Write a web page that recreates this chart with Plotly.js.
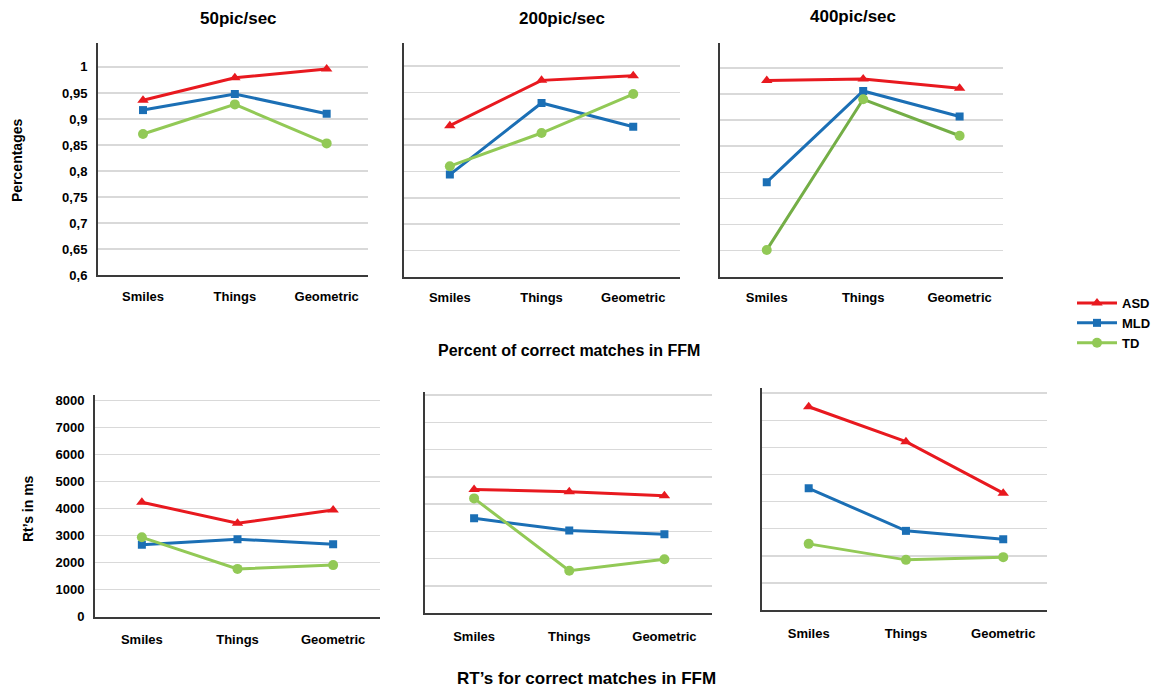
<!DOCTYPE html>
<html>
<head>
<meta charset="utf-8">
<script src="https://cdn.plot.ly/plotly-3.0.1.min.js"></script>
<style>html,body{margin:0;padding:0;background:#fff;}#chart{width:1170px;height:689px;}</style>
</head>
<body>
<div id="chart"></div>
<script>
// ---- data ----
const categories = ["Smiles", "Things", "Geometric"];
const groups = ["ASD", "MLD", "TD"];

// Percent of correct matches
const pct50_ASD = [0.936, 0.979, 0.996];
const pct50_MLD = [0.917, 0.948, 0.910];
const pct50_TD  = [0.871, 0.928, 0.853];

const pct200_ASD = [0.887, 0.973, 0.982];
const pct200_MLD = [0.794, 0.930, 0.885];
const pct200_TD  = [0.810, 0.873, 0.947];

const pct400_ASD = [0.976, 0.979, 0.961];
const pct400_MLD = [0.781, 0.956, 0.907];
const pct400_TD  = [0.651, 0.940, 0.870];

// RTs (ms)
const rt50_ASD = [4240, 3460, 3950];
const rt50_MLD = [2660, 2870, 2680];
const rt50_TD  = [2940, 1770, 1910];

const rt200_ASD = [4540, 4450, 4310];
const rt200_MLD = [3480, 3030, 2900];
const rt200_TD  = [4210, 1560, 1980];

const rt400_ASD = [7500, 6210, 4310];
const rt400_MLD = [4490, 2920, 2610];
const rt400_TD  = [2440, 1850, 1950];

const pctTickVals = [0.6, 0.65, 0.7, 0.75, 0.8, 0.85, 0.9, 0.95, 1];
const pctTickText = ["0,6", "0,65", "0,7", "0,75", "0,8", "0,85", "0,9", "0,95", "1"];
const rtTickVals = [0, 1000, 2000, 3000, 4000, 5000, 6000, 7000, 8000];
const rtTickText = ["0", "1000", "2000", "3000", "4000", "5000", "6000", "7000", "8000"];

const panelTitles = ["50pic/sec", "200pic/sec", "400pic/sec"];
const topTitle = "Percent of correct matches in FFM";
const bottomTitle = "RT\u2019s for correct matches in FFM";
const yTitleTop = "Percentages";
const yTitleBottom = "Rt\u2019s in ms";

// ---- styles ----
const colors = {ASD: "#e8191f", MLD: "#1b6fb5", TD: "#92c956"};
const symbols = {ASD: "triangle-up", MLD: "square", TD: "circle"};
const msize = {ASD: 10, MLD: 8, TD: 10};
const FONT = "Liberation Sans, Arial, sans-serif";

const W = 1170, H = 689;
const px = v => v / W;
const py = v => 1 - v / H;

const panels = [
  {data: [pct50_ASD, pct50_MLD, pct50_TD],   xd: [98, 368],   yd: [275, 43],    xr: [-0.49, 2.45], yr: [0.6, 1.046], ticks: true, kind: "pct"},
  {data: [pct200_ASD, pct200_MLD, pct200_TD], xd: [404, 680],  yd: [276.7, 43],  xr: [-0.5, 2.51],  yr: [0.6, 1.044], ticks: false, kind: "pct"},
  {data: [pct400_ASD, pct400_MLD, pct400_TD], xd: [720, 1003], yd: [276.5, 43],  xr: [-0.485, 2.45], yr: [0.6, 1.048], ticks: false, kind: "pct", tdLine: "#74ae46"},
  {data: [rt50_ASD, rt50_MLD, rt50_TD],       xd: [95, 380],   yd: [616.7, 395], xr: [-0.49, 2.49], yr: [0, 8210], ticks: true, kind: "rt"},
  {data: [rt200_ASD, rt200_MLD, rt200_TD],    xd: [425, 712],  yd: [613.3, 391.7], xr: [-0.516, 2.5], yr: [0, 8120], ticks: false, kind: "rt"},
  {data: [rt400_ASD, rt400_MLD, rt400_TD],    xd: [762, 1047], yd: [610, 388.3], xr: [-0.48, 2.45], yr: [0, 8180], ticks: false, kind: "rt"}
];

const traces = [];
const layout = {
  width: W, height: H,
  margin: {l: 0, r: 0, t: 0, b: 0},
  paper_bgcolor: "#fff", plot_bgcolor: "rgba(0,0,0,0)",
  font: {family: FONT, color: "#000"},
  showlegend: true,
  legend: {
    x: px(1072), y: py(288), xanchor: "left", yanchor: "top",
    font: {family: FONT, size: 13, color: "#000", weight: "bold"},
    bgcolor: "rgba(0,0,0,0)", itemwidth: 40, tracegroupgap: 0
  },
  annotations: []
};

panels.forEach((p, i) => {
  const n = i + 1;
  const xa = n === 1 ? "x" : "x" + n;
  const ya = n === 1 ? "y" : "y" + n;
  groups.forEach((g, k) => {
    const lc = (g === "TD" && p.tdLine) ? p.tdLine : colors[g];
    traces.push({
      type: "scatter", mode: "lines+markers",
      x: categories.map((c, j) => j), y: p.data[k],
      xaxis: xa, yaxis: ya, name: g,
      showlegend: i === 0, legendgroup: g,
      line: {color: lc, width: 3},
      marker: {symbol: symbols[g], size: msize[g], color: colors[g]},
      hoverinfo: "skip"
    });
  });
  layout["xaxis" + (n === 1 ? "" : n)] = {
    domain: [px(p.xd[0]), px(p.xd[1])], range: p.xr, anchor: ya,
    tickmode: "array", tickvals: [0, 1, 2], ticktext: categories,
    showgrid: false, zeroline: false, showline: true, linecolor: "#3a3a3a", linewidth: 2,
    ticks: "outside", ticklen: p.kind === "pct" ? 8 : 10, tickcolor: "rgba(0,0,0,0)",
    tickfont: {family: FONT, size: 13, color: "#000", weight: "bold"}, fixedrange: true
  };
  layout["yaxis" + (n === 1 ? "" : n)] = {
    domain: [py(p.yd[0]), py(p.yd[1])], range: p.yr, anchor: xa,
    tickmode: "array",
    tickvals: p.kind === "pct" ? pctTickVals : rtTickVals,
    ticktext: p.kind === "pct" ? pctTickText : rtTickText,
    showticklabels: p.ticks,
    showgrid: true, gridcolor: "#d9d9d9", gridwidth: 1.5, zeroline: false,
    showline: true, linecolor: "#3a3a3a", linewidth: 2,
    ticks: "outside", ticklen: 6, tickcolor: "rgba(0,0,0,0)",
    tickfont: {family: FONT, size: 13, color: "#000", weight: "bold"}, fixedrange: true
  };
});

const ann = (text, x, y, size, angle) => ({
  text: text, x: px(x), y: py(y), xref: "paper", yref: "paper",
  xanchor: "center", yanchor: "middle", showarrow: false, textangle: angle || 0,
  font: {family: FONT, size: size, color: "#000", weight: "bold"}
});
layout.annotations.push(ann(panelTitles[0], 238, 18, 17));
layout.annotations.push(ann(panelTitles[1], 562, 18, 17));
layout.annotations.push(ann(panelTitles[2], 853, 17, 17));
layout.annotations.push(ann(topTitle, 569, 350, 16));
layout.annotations.push(ann(bottomTitle, 586, 678, 17));
layout.annotations.push(ann(yTitleTop, 17, 161, 14, -90));
layout.annotations.push(ann(yTitleBottom, 28, 509, 14, -90));

Plotly.newPlot("chart", traces, layout, {displayModeBar: false, staticPlot: true});
</script>
</body>
</html>
